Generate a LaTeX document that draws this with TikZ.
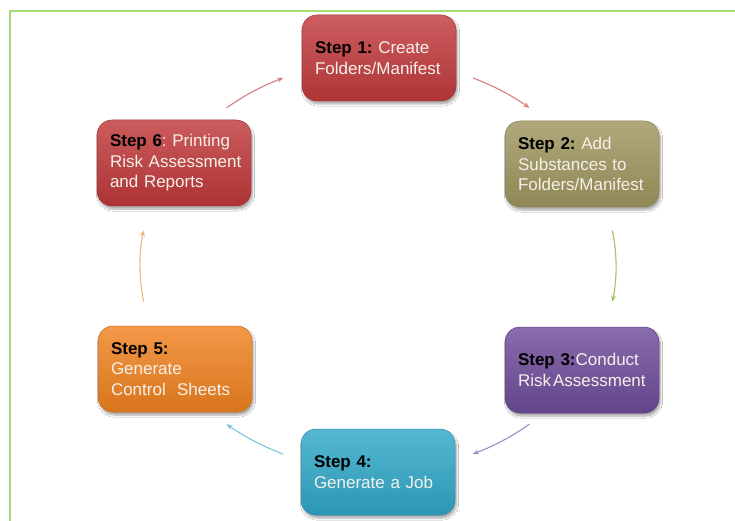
\documentclass[tikz,border=0pt]{standalone}
\usepackage{fontspec}
\setmainfont{Liberation Sans}
\usetikzlibrary{arrows.meta,shadows.blur,calc}
\definecolor{cA}{HTML}{C23A3C}
\definecolor{cB}{HTML}{A0965F}
\definecolor{cC}{HTML}{6E4C9A}
\definecolor{cD}{HTML}{30A8C8}
\definecolor{cE}{HTML}{F08220}
\definecolor{cF}{HTML}{C0383A}
\definecolor{cG}{HTML}{9BCB5F}
\definecolor{frame}{HTML}{A6DC74}
\definecolor{txt}{HTML}{F4F1EA}
\newcommand{\stp}[1]{\textcolor{black}{\bfseries #1}}
\frenchspacing
\tikzset{
  stepbox/.style={rounded corners=15pt, minimum width=154pt, minimum height=86pt,
    text width=128pt, inner xsep=13pt, align=left, text=txt,
    top color=#1!82!white, middle color=#1, bottom color=#1!90!black,
    draw=#1!85!black, line width=0.5pt,
    blur shadow={shadow xshift=1.5pt, shadow yshift=-3pt, shadow blur steps=6, shadow opacity=35},
    font=\fontsize{17}{20.5}\selectfont\frenchspacing},
  arr/.style={line width=1.1pt, draw=#1, -{Stealth[length=6pt,width=5pt]}}
}
\begin{document}
\begin{tikzpicture}[x=1pt,y=-1pt]
\useasboundingbox (0,0) rectangle (735,521);
\fill[white] (0,0) rectangle (735,521);
\draw[frame, line width=1.3pt] (735,11) -- (10,11) -- (10,521);

\node[stepbox=cA] (b1) at (379,58) {\mbox{\stp{Step 1:} Create}\\\mbox{Folders/Manifest}};
\node[stepbox=cB] (b2) at (582,164) {\mbox{\stp{Step 2:} Add}\\\mbox{Substances to}\\\mbox{Folders/Manifest}};
\node[stepbox=cC] (b3) at (582,370) {\mbox{\stp{Step 3:}Conduct}\\\mbox{Risk\hspace{0.12em}Assessment}};
\node[stepbox=cD] (b4) at (378,472) {\mbox{\stp{Step 4:}}\\\mbox{Generate a Job}};
\node[stepbox=cE] (b5) at (175,369) {\mbox{\stp{Step 5:}}\\\mbox{Generate}\\\mbox{Control\ \ Sheets}};
\node[stepbox=cF] (b6) at (174,163) {\mbox{\stp{Step 6}: Printing}\\\mbox{Risk Assessment}\\\mbox{and Reports}};

\coordinate (ctr) at (378,266);
\draw[arr=cA!65!white] ($(ctr)+(-66.5:238 and 205)$) arc[start angle=-66.5, end angle=-50.5, x radius=238, y radius=205];
\draw[arr=cG] ($(ctr)+(-10:238 and 205)$) arc[start angle=-10, end angle=10, x radius=238, y radius=205];
\draw[arr=cC!65!white] ($(ctr)+(50.5:238 and 205)$) arc[start angle=50.5, end angle=66.5, x radius=238, y radius=205];
\draw[arr=cD!65!white] ($(ctr)+(113.5:238 and 205)$) arc[start angle=113.5, end angle=129.5, x radius=238, y radius=205];
\draw[arr=cE!60!white] ($(ctr)+(170:238 and 205)$) arc[start angle=170, end angle=190, x radius=238, y radius=205];
\draw[arr=cF!65!white] ($(ctr)+(230.5:238 and 205)$) arc[start angle=230.5, end angle=246.5, x radius=238, y radius=205];
\end{tikzpicture}
\end{document}
